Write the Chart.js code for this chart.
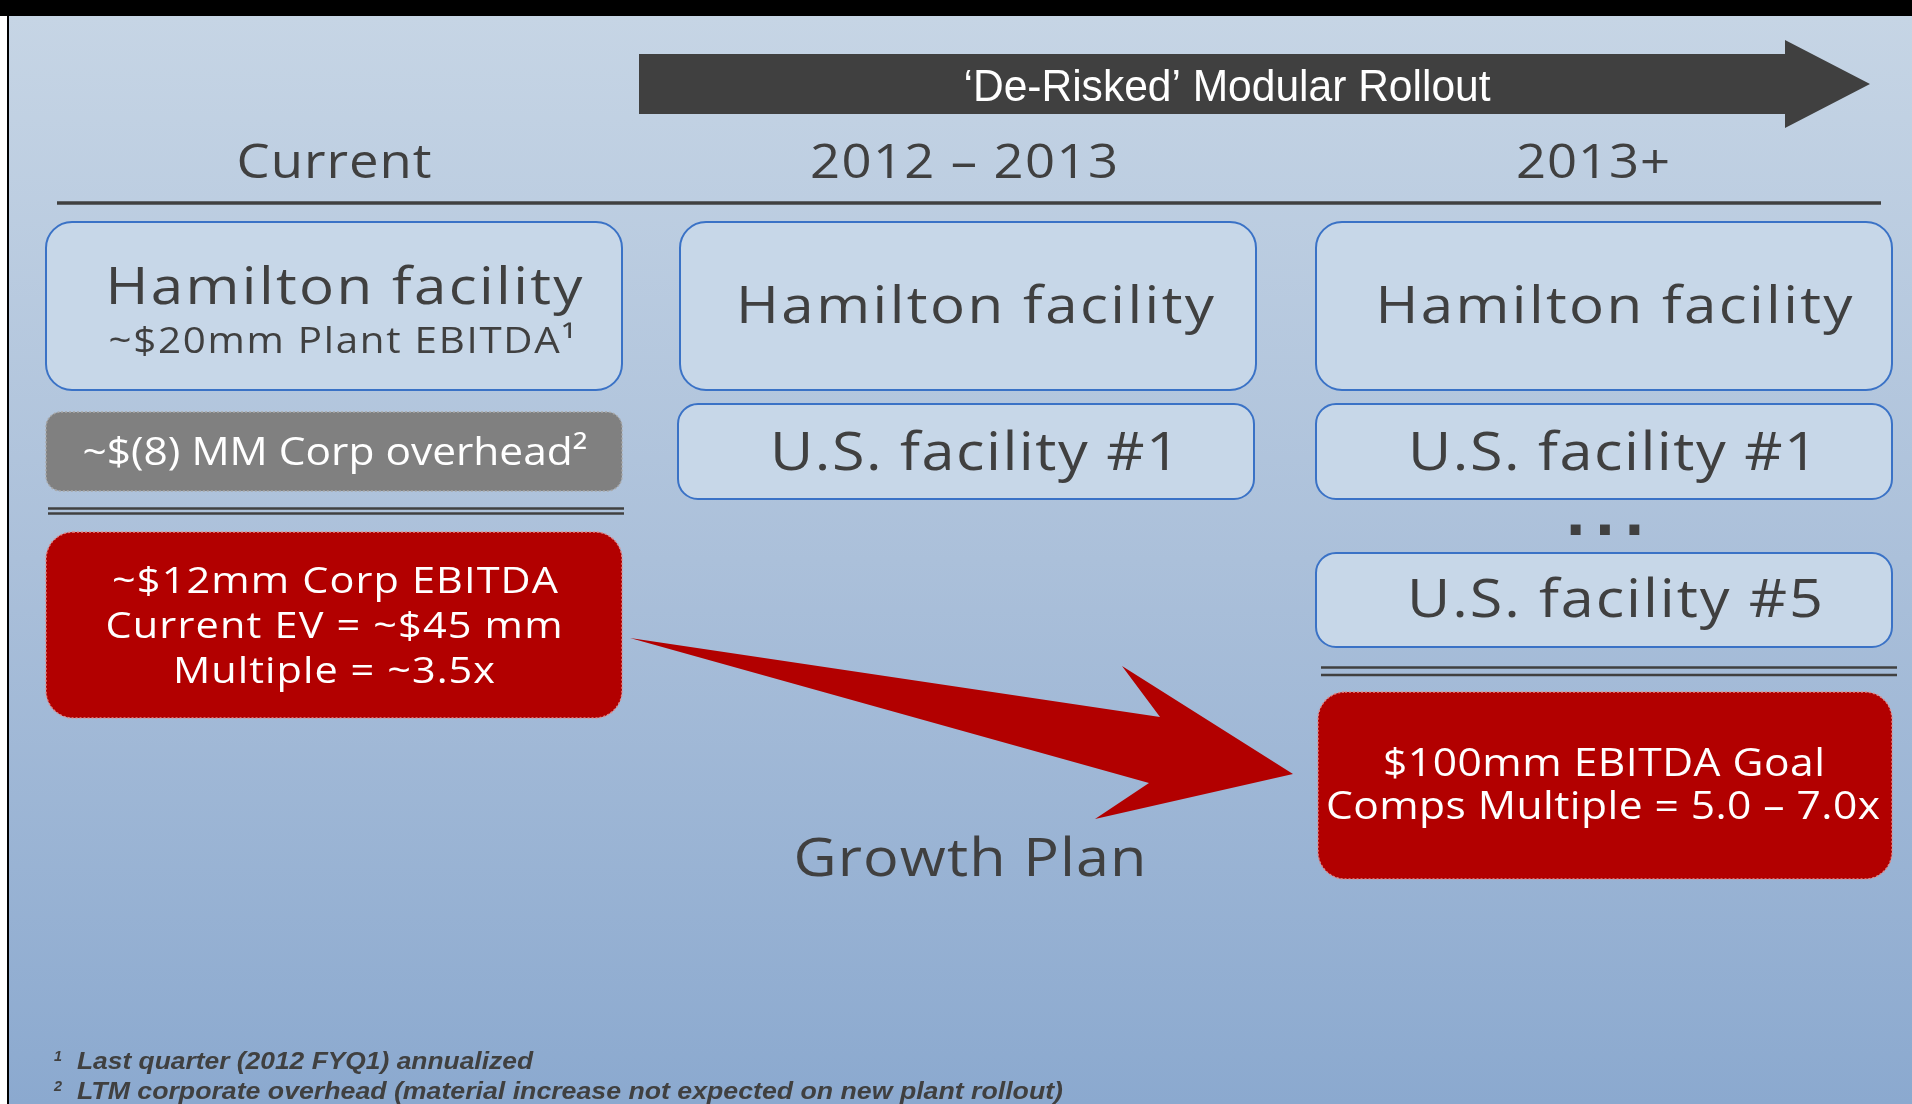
<!DOCTYPE html>
<html>
<head>
<meta charset="utf-8">
<script src="https://cdn.jsdelivr.net/npm/chart.js@4.4.1/dist/chart.umd.min.js"></script>
<style>
  html, body { margin: 0; padding: 0; overflow: hidden; background: #fff; }
  #wrap { width: 1912px; height: 1104px; position: relative; }
</style>
</head>
<body>
<div id="wrap"><canvas id="slide"></canvas></div>
<script>
// Slide content
const rolloutTitle = '\u2018De-Risked\u2019 Modular Rollout';
const columnHeaders = ['Current', '2012 \u2013 2013', '2013+'];
const facilityLabels = ['Hamilton facility', 'U.S. facility #1', 'U.S. facility #5'];
const plantNote = '~$20mm Plant EBITDA\u00b9';
const overheadLabel = '~$(8) MM Corp overhead\u00b2';
const currentLines = ['~$12mm Corp EBITDA', 'Current EV = ~$45 mm', 'Multiple = ~3.5x'];
const goalLines = ['$100mm EBITDA Goal', 'Comps Multiple = 5.0 \u2013 7.0x'];
const growthLabel = 'Growth Plan';
const footnoteMarks = ['1', '2'];
const footnotes = [
  'Last quarter (2012 FYQ1) annualized',
  'LTM corporate overhead (material increase not expected on new plant rollout)'
];

// Layout (slide units = pixels of the 1912x1104 slide)
const W = 1912, H = 1104;
const DARK = '#404040';
const BLUE = '#3a72c6';
const BOX_FILL = '#c7d7e8';
const RED = '#b20000';
const SANS = '"Open Sans", "DejaVu Sans", sans-serif';
const ARIAL = '"Liberation Sans", Arial, sans-serif';

const layout = {
  headerX: [334, 964, 1593], headerW: [195, 308, 154], headerY: 178,
  cols: [[46, 622], [680, 1256], [1316, 1892]],
  usCol2: [678, 1254]
};

function drawSlide(chart) {
  const ctx = chart.ctx;
  const xs = chart.scales.x, ys = chart.scales.y;
  const px = v => xs.getPixelForValue(v);
  const py = v => ys.getPixelForValue(v);

  // fit text to a width: stretch the glyphs a bit, then spread the rest
  function fitText(text, cx, base, size, width, opts) {
    opts = opts || {};
    const maxStretch = opts.maxStretch || 1.12;
    ctx.save();
    ctx.font = (opts.style || '') + ' ' + size + 'px ' + (opts.family || SANS);
    ctx.fillStyle = opts.color || DARK;
    ctx.textBaseline = 'alphabetic';
    ctx.textAlign = 'left';
    const n = Array.from(text).length;
    const natural = ctx.measureText(text).width;
    const target = px(width) - px(0);
    const left = opts.left !== undefined ? px(opts.left) : px(cx) - target / 2;
    let s = target / natural;
    if (s > maxStretch && 'letterSpacing' in ctx && n > 1) {
      s = maxStretch;
      ctx.letterSpacing = ((target / s - natural) / (n - 1)) + 'px';
    }
    ctx.translate(left, py(base));
    ctx.scale(s, 1);
    ctx.fillText(text, 0, 0);
    ctx.restore();
  }

  function roundBox(x0, y0, x1, y1, r, fill, stroke, dotted) {
    ctx.save();
    ctx.beginPath();
    ctx.roundRect(px(x0), py(y0), px(x1) - px(x0), py(y1) - py(y0), r);
    ctx.fillStyle = fill;
    ctx.fill();
    ctx.lineWidth = dotted ? 1.5 : 2;
    ctx.strokeStyle = stroke;
    if (dotted) ctx.setLineDash([2, 2]);
    ctx.stroke();
    ctx.restore();
  }

  function hLine(x0, x1, y, w) {
    ctx.save();
    ctx.strokeStyle = DARK;
    ctx.lineWidth = w;
    ctx.beginPath();
    ctx.moveTo(px(x0), py(y));
    ctx.lineTo(px(x1), py(y));
    ctx.stroke();
    ctx.restore();
  }

  function polygon(pts, color) {
    ctx.save();
    ctx.beginPath();
    pts.forEach((p, i) => i ? ctx.lineTo(px(p[0]), py(p[1])) : ctx.moveTo(px(p[0]), py(p[1])));
    ctx.closePath();
    ctx.fillStyle = color;
    ctx.fill();
    ctx.restore();
  }

  // rollout arrow
  polygon([[639, 54], [1785, 54], [1785, 40], [1870, 84], [1785, 128], [1785, 114], [639, 114]], DARK);
  fitText(rolloutTitle, 1227, 101, 45, 527, { family: ARIAL, color: '#ffffff' });

  // column headers
  columnHeaders.forEach((h, i) => {
    fitText(h, layout.headerX[i], layout.headerY, 47, layout.headerW[i]);
  });
  hLine(57, 1881, 203, 3.5);

  // Hamilton boxes
  const c = layout.cols;
  c.forEach(col => roundBox(col[0], 222, col[1], 390, 26, BOX_FILL, BLUE));
  fitText(facilityLabels[0], 344, 304, 52, 477);
  fitText(plantNote, 342, 353, 36, 467);
  fitText(facilityLabels[0], 975, 323, 52, 478);
  fitText(facilityLabels[0], 1614, 323, 52, 477);

  // U.S. facility boxes
  roundBox(layout.usCol2[0], 404, layout.usCol2[1], 499, 20, BOX_FILL, BLUE);
  roundBox(c[2][0], 404, c[2][1], 499, 20, BOX_FILL, BLUE);
  roundBox(c[2][0], 553, c[2][1], 647, 20, BOX_FILL, BLUE);
  fitText(facilityLabels[1], 975, 470, 53, 410);
  fitText(facilityLabels[1], 1613, 470, 53, 410);
  fitText(facilityLabels[2], 1615, 617, 53, 416);
  fitText('...', 1605, 535, 56, 80, { family: '"DejaVu Sans", sans-serif', style: 'bold', maxStretch: 1 });

  // overhead box
  roundBox(46, 412, 622, 491, 15, '#808080', '#a8a8a8', true);
  fitText(overheadLabel, 335, 465, 39, 505, { color: '#ffffff' });

  // double rules
  hLine(48, 624, 508.5, 2.5);
  hLine(48, 624, 513.5, 2.5);
  hLine(1321, 1897, 667.5, 2.5);
  hLine(1321, 1897, 675, 2.5);

  // red boxes
  roundBox(46, 532, 622, 718, 27, RED, '#e08a8a', true);
  const cy = [593, 638, 683], cw = [446, 457, 322], cxs = [335, 334, 334];
  currentLines.forEach((t, i) => fitText(t, cxs[i], cy[i], 37, cw[i], { color: '#ffffff' }));

  roundBox(1318, 692, 1892, 879, 27, RED, '#e08a8a', true);
  const gy = [776, 819], gw = [442, 554], gx = [1604, 1603];
  goalLines.forEach((t, i) => fitText(t, gx[i], gy[i], 38, gw[i], { color: '#ffffff' }));

  // growth arrow
  polygon([[630, 638], [1160, 717], [1122, 666], [1293, 774], [1095, 819], [1149, 783]], RED);
  fitText(growthLabel, 970, 876, 53, 353);

  // footnotes
  const fnY = [1069, 1099], fnW = [456, 986];
  footnotes.forEach((t, i) => {
    fitText(footnoteMarks[i], 0, fnY[i] - 8, 15, 8,
      { family: ARIAL, style: 'italic bold', left: 54 });
    fitText(t, 0, fnY[i], 24, fnW[i],
      { family: ARIAL, style: 'italic bold', left: 77 });
  });
}

const slideBackground = {
  id: 'slideBackground',
  beforeDraw(chart) {
    const ctx = chart.ctx;
    const g = ctx.createLinearGradient(0, 16, 0, H);
    g.addColorStop(0, '#c6d5e5');
    g.addColorStop(0.5, '#abc0da');
    g.addColorStop(1, '#8ba9cf');
    ctx.save();
    ctx.fillStyle = g;
    ctx.fillRect(0, 0, W, H);
    ctx.fillStyle = '#ffffff';
    ctx.fillRect(0, 0, 7, H);
    ctx.fillStyle = '#000000';
    ctx.fillRect(7, 0, 2, H);
    ctx.fillRect(0, 0, W, 16);
    ctx.restore();
  },
  afterDraw(chart) {
    drawSlide(chart);
  }
};

new Chart(document.getElementById('slide'), {
  type: 'scatter',
  data: { datasets: [] },
  options: {
    responsive: true,
    maintainAspectRatio: false,
    animation: false,
    events: [],
    layout: { padding: 0 },
    plugins: { legend: { display: false }, tooltip: { enabled: false } },
    scales: {
      x: { type: 'linear', min: 0, max: W, display: false },
      y: { type: 'linear', min: 0, max: H, reverse: true, display: false }
    }
  },
  plugins: [slideBackground]
});
</script>
</body>
</html>
